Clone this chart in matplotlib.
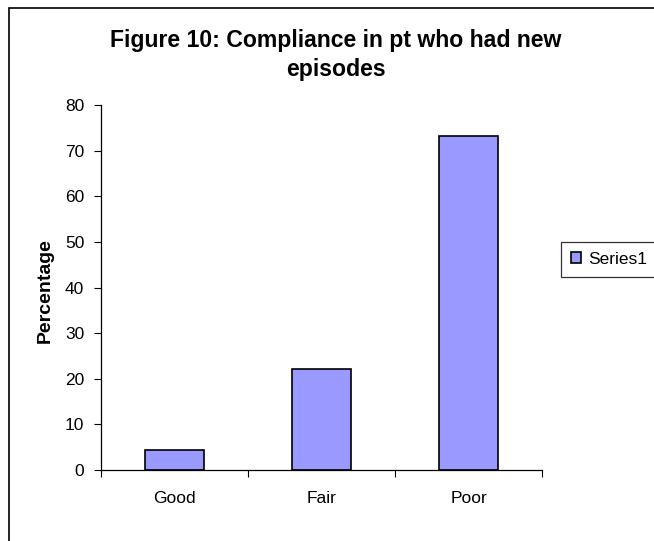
import matplotlib
matplotlib.use("Agg")
import matplotlib.pyplot as plt
from matplotlib.patches import Rectangle

categories = ["Good", "Fair", "Poor"]
values = [4.4, 22.2, 73.3]
series_name = "Series1"
title = "Figure 10: Compliance in pt who had new\nepisodes"
ylabel = "Percentage"
yticks = [0, 10, 20, 30, 40, 50, 60, 70, 80]

plt.rcParams['font.family'] = ['Liberation Sans', 'DejaVu Sans']

W, H = 654, 541
fig = plt.figure(figsize=(W/100, H/100), dpi=100)

# outer chart frame (extends beyond right/bottom edges)
fig.patches.append(Rectangle((8.5/W, -0.1), 1.2, 1 - 8/H + 0.1, transform=fig.transFigure,
                             fill=False, edgecolor='black', linewidth=1.2))

ax = fig.add_axes([101/W, 1 - 470/H, (542-101)/W, (470-105)/H])
x = list(range(len(categories)))
ax.bar(x, values, width=0.4, color='#9999FF', edgecolor='black', linewidth=1.2,
       label=series_name)
ax.set_xlim(-0.5, len(categories) - 0.5)
ax.set_ylim(0, 80)
ax.set_yticks(yticks)
ax.set_yticklabels([str(t) for t in yticks], fontsize=12.5)
ax.set_xticks(x)
ax.set_xticklabels(categories, fontsize=12.5)
ax.tick_params(axis='x', length=0, pad=15)
ax.tick_params(axis='y', length=5, width=0.8, pad=7)
ax.set_xticks([i - 0.5 for i in range(len(categories) + 1)], minor=True)
ax.tick_params(axis='x', which='minor', length=5, width=0.8, direction='out')
for s in ['top', 'right']:
    ax.spines[s].set_visible(False)
for s in ['left', 'bottom']:
    ax.spines[s].set_linewidth(0.9)

fig.text(45/W, 1 - 291/H, ylabel, rotation=90, ha='center', va='center',
         fontsize=14, fontweight='bold')

fig.text(336/W, 1 - 55/H, title, ha='center', va='center', fontsize=16.6,
         fontweight='bold', linespacing=1.3)

leg = ax.legend(loc='center left', bbox_to_anchor=(561/W, 1 - 259.5/H),
                bbox_transform=fig.transFigure, fontsize=12.5, frameon=True,
                fancybox=False, edgecolor='black', handlelength=0.6, handleheight=0.6,
                handletextpad=0.4, borderpad=0.55, borderaxespad=0)
leg.get_frame().set_linewidth(0.9)

fig.savefig("out.png", dpi=100)
